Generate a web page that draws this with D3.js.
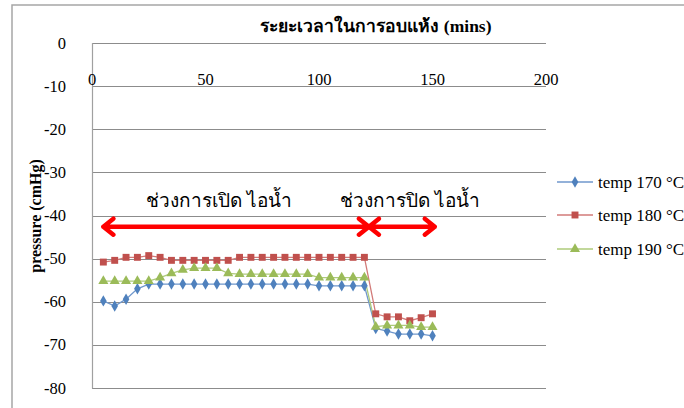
<!DOCTYPE html>
<html>
<head>
<meta charset="utf-8">
<script src="https://cdn.jsdelivr.net/npm/d3@7"></script>
<style>
  html, body { margin: 0; padding: 0; background: #fff; }
  svg { display: block; }
</style>
</head>
<body>
<svg id="chart" width="684" height="408"></svg>
<script>
// Drying time (minutes) at which each pressure reading was taken
const minutes = [5, 10, 15, 20, 25, 30, 35, 40, 45, 50, 55, 60, 65, 70, 75, 80, 85, 90, 95, 100,
                 105, 110, 115, 120, 125, 130, 135, 140, 145, 150];

// Chamber pressure (cmHg) for each drying temperature
const temp170 = [-59.8, -61.0, -59.4, -57.0, -55.9, -55.9, -55.9, -55.9, -55.9, -55.9, -55.9, -55.9,
                 -55.9, -55.9, -55.9, -55.9, -55.9, -55.9, -55.9, -56.3, -56.3, -56.3, -56.3, -56.3,
                 -66.2, -66.8, -67.5, -67.5, -67.5, -67.9];
const temp180 = [-50.8, -50.4, -49.7, -49.7, -49.3, -49.7, -50.4, -50.4, -50.4, -50.4, -50.4, -50.4,
                 -49.7, -49.7, -49.7, -49.7, -49.7, -49.7, -49.7, -49.7, -49.7, -49.7, -49.7, -49.7,
                 -62.8, -63.5, -63.5, -64.4, -63.7, -62.8];
const temp190 = [-55.2, -55.2, -55.2, -55.2, -55.2, -54.4, -53.4, -52.6, -52.2, -52.2, -52.2, -53.4,
                 -53.6, -53.6, -53.6, -53.6, -53.6, -53.6, -53.6, -54.4, -54.4, -54.4, -54.4, -54.4,
                 -65.8, -65.5, -65.5, -65.5, -65.9, -65.9];

const seriesNames = ["temp 170 °C", "temp 180 °C", "temp 190 °C"];
const xTicks = [0, 50, 100, 150, 200];
const yTicks = [0, -10, -20, -30, -40, -50, -60, -70, -80];

// Steam-valve phases: start minute, end minute, label
const phaseStart = [5, 122];
const phaseEnd = [122, 151];
const phaseLabels = ["ช่วงการเปิด ไอน้ำ", "ช่วงการปิด ไอน้ำ"];
const phasePressure = -42.6;

const xTitle = "ระยะเวลาในการอบแห้ง (mins)";
const yTitle = "pressure (cmHg)";

const serif = "'Liberation Serif', 'Times New Roman', 'DejaVu Serif', serif";
const colors = ["#4F81BD", "#C0504D", "#9BBB59"];
const lineColors = ["#6f97cc", "#d27a78", "#aecb7a"];
const markers = [d3.symbolDiamond, d3.symbolSquare, d3.symbolTriangle];
const markerSizes = [38, 48, 44];

const svg = d3.select("#chart").attr("font-family", serif);

// outer chart frame
svg.append("rect")
  .attr("x", 12).attr("y", 5)
  .attr("width", 700).attr("height", 420)
  .attr("fill", "none").attr("stroke", "#a6a6a6").attr("stroke-width", 1.5);

const x = d3.scaleLinear().domain([0, 200]).range([92, 546]);
const y = d3.scaleLinear().domain([0, -80]).range([43, 388]);

// horizontal gridlines
svg.append("g").selectAll("line").data(yTicks).join("line")
  .attr("x1", x(0)).attr("x2", x(200))
  .attr("y1", d => Math.round(y(d)) + 0.5).attr("y2", d => Math.round(y(d)) + 0.5)
  .attr("stroke", "#8c8c8c").attr("stroke-width", 1);

// vertical axis line
svg.append("line")
  .attr("x1", x(0) + 0.5).attr("x2", x(0) + 0.5)
  .attr("y1", y(0)).attr("y2", y(-80) + 0.5)
  .attr("stroke", "#a0a0a0").attr("stroke-width", 1.2);

// y tick labels
svg.append("g").selectAll("text").data(yTicks).join("text")
  .attr("x", 66).attr("y", d => y(d) + 5.5)
  .attr("text-anchor", "end")
  .attr("font-family", serif)
  .attr("font-size", 16.5)
  .text(d => d);

// x tick labels
svg.append("g").selectAll("text").data(xTicks).join("text")
  .attr("x", d => x(d)).attr("y", 85)
  .attr("text-anchor", "middle")
  .attr("font-family", serif)
  .attr("font-size", 16.5)
  .text(d => d);

// axis titles
svg.append("text")
  .attr("x", 376).attr("y", 32)
  .attr("text-anchor", "middle")
  .attr("font-family", serif)
  .attr("font-size", 17.5).attr("font-weight", "bold")
  .text(xTitle);

svg.append("text")
  .attr("transform", "translate(41,216) rotate(-90)")
  .attr("text-anchor", "middle")
  .attr("font-family", serif)
  .attr("font-size", 16).attr("font-weight", "bold")
  .text(yTitle);

// series lines and markers
const allSeries = [temp170, temp180, temp190];
const line = d3.line().x((d, i) => x(minutes[i])).y(d => y(d));

allSeries.forEach((vals, s) => {
  svg.append("path")
    .datum(vals)
    .attr("d", line)
    .attr("fill", "none")
    .attr("stroke", lineColors[s])
    .attr("stroke-width", 1.3);
});
allSeries.forEach((vals, s) => {
  svg.append("g").selectAll("path").data(vals).join("path")
    .attr("transform", (d, i) => `translate(${x(minutes[i])},${y(d)})`)
    .attr("d", d3.symbol().type(markers[s]).size(markerSizes[s]))
    .attr("fill", colors[s]);
});

// phase annotations: double-headed red arrows with labels
const arrowG = svg.append("g");
phaseStart.forEach((s, i) => {
  const x1 = x(s), x2 = x(phaseEnd[i]), yy = y(phasePressure);
  const head = 10, spread = 8;
  arrowG.append("path")
    .attr("d", `M${x1},${yy}L${x2},${yy}` +
               `M${x1 + head},${yy - spread}L${x1},${yy}L${x1 + head},${yy + spread}` +
               `M${x2 - head},${yy - spread}L${x2},${yy}L${x2 - head},${yy + spread}`)
    .attr("fill", "none")
    .attr("stroke", "#ff0000")
    .attr("stroke-width", 4.5)
    .attr("stroke-linecap", "round")
    .attr("stroke-linejoin", "round");
  arrowG.append("text")
    .attr("x", (x1 + x2) / 2 + (i === 0 ? -17 : 8))
    .attr("y", 207)
    .attr("text-anchor", "middle")
    .attr("font-family", serif)
    .attr("font-size", 19)
    .text(phaseLabels[i]);
});

// legend
const legend = svg.append("g");
const legendY = [182, 215, 249];
seriesNames.forEach((name, s) => {
  const ly = legendY[s];
  legend.append("line")
    .attr("x1", 557).attr("x2", 593).attr("y1", ly).attr("y2", ly)
    .attr("stroke", lineColors[s]).attr("stroke-width", 1.5);
  legend.append("path")
    .attr("transform", `translate(575,${ly})`)
    .attr("d", d3.symbol().type(markers[s]).size(markerSizes[s]))
    .attr("fill", colors[s]);
  legend.append("text")
    .attr("x", 598).attr("y", ly + 6)
    .attr("font-family", serif)
    .attr("font-size", 17)
    .text(name);
});
</script>
</body>
</html>
